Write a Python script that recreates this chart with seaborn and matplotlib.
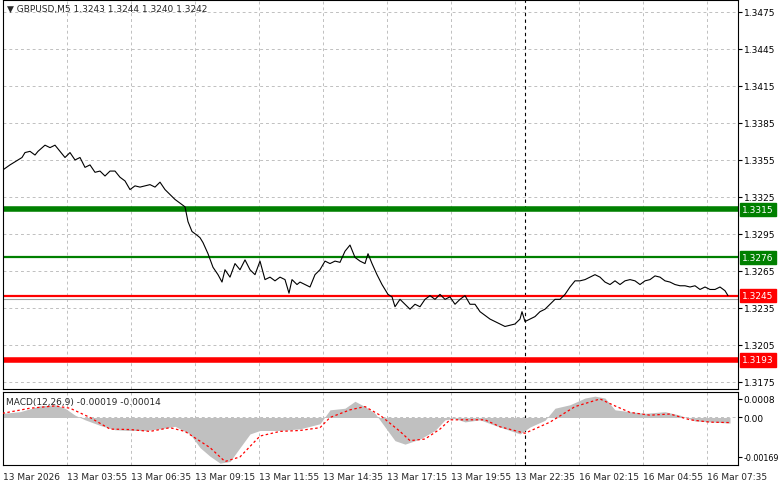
import matplotlib
matplotlib.use("Agg")
import matplotlib.pyplot as plt
import seaborn as sns
import numpy as np

sns.set_style("white")
plt.rcParams['font.family'] = ['DejaVu Sans']

symbol_title = "GBPUSD,M5 1.3243 1.3244 1.3240 1.3242"
px_x = [3,10,18,22,25,30,35,38,45,50,55,60,65,70,75,80,85,90,95,100,105,110,115,120,125,130,135,140,145,150,155,160,165,170,175,180,185,188,192,197,200,203,208,213,218,222,225,230,235,240,245,250,255,260,265,270,275,280,285,289,292,297,300,305,310,315,320,325,330,335,340,345,350,355,360,365,368,372,377,382,388,392,395,400,405,410,415,420,425,430,435,440,445,450,455,460,465,470,475,480,485,490,495,500,505,510,515,520,522,525,530,535,540,545,550,555,560,565,570,575,580,585,590,595,600,605,610,615,620,625,630,635,640,645,650,655,660,665,670,675,680,685,690,695,700,705,710,715,720,725,728]
bar_idx = [(x - 3) / 2 for x in px_x]
close = [1.3347,1.3351,1.3355,1.3357,1.3361,1.3362,1.3359,1.3362,1.3367,1.3365,1.3367,1.3362,1.3357,1.3361,1.3355,1.3357,1.3349,1.3351,1.3345,1.3346,1.3342,1.3346,1.3346,1.3341,1.3338,1.3331,1.3334,1.3333,1.3334,1.3335,1.3333,1.3337,1.3331,1.3327,1.3323,1.3320,1.3317,1.3305,1.3297,1.3294,1.3292,1.3288,1.3279,1.3268,1.3262,1.3256,1.3266,1.3260,1.3271,1.3266,1.3274,1.3266,1.3262,1.3273,1.3258,1.3260,1.3257,1.3260,1.3258,1.3247,1.3258,1.3254,1.3256,1.3254,1.3252,1.3262,1.3266,1.3273,1.3271,1.3273,1.3272,1.3281,1.3286,1.3276,1.3273,1.3271,1.3279,1.3271,1.3262,1.3254,1.3246,1.3244,1.3236,1.3242,1.3238,1.3234,1.3238,1.3236,1.3242,1.3245,1.3242,1.3246,1.3242,1.3244,1.3238,1.3242,1.3245,1.3238,1.3238,1.3232,1.3229,1.3226,1.3224,1.3222,1.3220,1.3221,1.3222,1.3226,1.3232,1.3224,1.3226,1.3228,1.3232,1.3234,1.3238,1.3242,1.3242,1.3246,1.3252,1.3257,1.3257,1.3258,1.3260,1.3262,1.3260,1.3256,1.3254,1.3257,1.3254,1.3257,1.3258,1.3257,1.3254,1.3257,1.3258,1.3261,1.3260,1.3257,1.3256,1.3254,1.3253,1.3253,1.3252,1.3253,1.3250,1.3252,1.3250,1.3250,1.3252,1.3249,1.3245]

macd_zx = [5,40,80,110,130,150,170,200,230,260,290,320,350,380,400,420,440,460,480,500,520,560,600,640,660,690,710,730,750,770,790,810,840,870,890,910,930,960,990,1020,1040,1060,1090,1110,1140,1170,1190,1210,1230,1260,1290,1330,1360,1390,1420,1460]
macd_hist = [0.00018,0.00025,0.0005,0.00055,0.0004,0.0001,-0.0001,-0.00034,-0.00053,-0.00056,-0.00056,-0.00049,-0.00038,-0.00071,-0.0013,-0.00167,-0.00197,-0.0019,-0.0013,-0.00071,-0.00056,-0.00056,-0.00049,-0.00027,0.00033,0.0004,0.0007,0.00047,0.00018,-0.00041,-0.001,-0.00115,-0.00093,-0.00056,-0.0001,-0.00004,-0.00019,-0.0001,-0.00034,-0.00056,-0.00071,-0.00041,-0.00012,0.0004,0.00055,0.00084,0.00092,0.00084,0.00033,0.00025,0.00018,0.00025,0.0001,-0.00015,-0.00019,-0.00024]
sig_zx = [5,60,110,140,180,220,260,300,340,370,420,450,480,520,560,600,640,660,700,730,760,800,820,850,880,900,940,970,1000,1050,1100,1150,1200,1230,1260,1300,1340,1380,1420,1460]
sig_val = [0.00018,0.0004,0.0005,0.0004,0.0,-0.0005,-0.00052,-0.0006,-0.00044,-0.0006,-0.0013,-0.0019,-0.0017,-0.0008,-0.0006,-0.00056,-0.00044,0.0,0.00033,0.00047,0.0001,-0.0006,-0.001,-0.00093,-0.0005,-0.0001,-0.0001,-0.0001,-0.0004,-0.00068,-0.0002,0.00047,0.0008,0.0005,0.00022,0.0001,0.00015,-0.0001,-0.0002,-0.00022]
macd_bar = [(z / 2 - 3) / 2 for z in macd_zx]
sig_bar = [(z / 2 - 3) / 2 for z in sig_zx]

levels = [1.3315, 1.3276, 1.3245, 1.3193]
level_colors = ["#008000", "#008000", "#ff0000", "#ff0000"]
level_widths = [4, 1.6, 1.6, 4]
last_price = 1.3242
price_ticks = [1.3175, 1.3205, 1.3235, 1.3265, 1.3295, 1.3325, 1.3355, 1.3385, 1.3415, 1.3445, 1.3475]
time_labels = ["13 Mar 2026", "13 Mar 03:55", "13 Mar 06:35", "13 Mar 09:15", "13 Mar 11:55", "13 Mar 14:35",
               "13 Mar 17:15", "13 Mar 19:55", "13 Mar 22:35", "16 Mar 02:15", "16 Mar 04:55", "16 Mar 07:35"]
time_bars = [0, 32, 64, 96, 128, 160, 192, 224, 256, 288, 320, 352]
cursor_bar = 261

W, H = 781, 489
fig = plt.figure(figsize=(W / 100, H / 100), dpi=100)
ax = fig.add_axes([3 / W, 1 - 390 / H, 735 / W, 389 / H])
ax2 = fig.add_axes([3 / W, 1 - 466 / H, 735 / W, 73 / H])
xmax = 367.5
for a in (ax, ax2):
    a.set_xlim(0, xmax)
    for s in a.spines.values():
        s.set_color("black"); s.set_linewidth(0.8)
    for b in time_bars:
        a.axvline(b, color="#c0c0c0", ls=(0, (3, 3)), lw=0.7, zorder=0)
    a.axvline(cursor_bar, color="black", ls=(0, (3, 3)), lw=0.8, zorder=1)
    a.yaxis.tick_right()
    a.tick_params(axis='y', labelsize=6.5, length=3, pad=1.5, colors="black")

ax.set_ylim(1.31693, 1.34847)
for t in price_ticks:
    ax.axhline(t, color="#c0c0c0", ls=(0, (3, 3)), lw=0.7, zorder=0)
ax.set_yticks(price_ticks)
ax.set_yticklabels([f"{t:.4f}" for t in price_ticks])
ax.set_xticks([])
ax.axhline(last_price, color="#a0a0a0", lw=0.8, zorder=1)
sns.lineplot(x=bar_idx, y=close, ax=ax, color="black", lw=0.8, zorder=3)
for lv, c, w in zip(levels, level_colors, level_widths):
    ax.axhline(lv, color=c, lw=w, zorder=2)
    ax.annotate(f"{lv:.4f}", xy=(1.0, lv), xycoords=("axes fraction", "data"), xytext=(3, 0),
                textcoords="offset points", va="center", ha="left", fontsize=6.5, color="white",
                bbox=dict(boxstyle="square,pad=0.25", fc=c, ec=c), annotation_clip=False)
ax.text(0.005, 0.99, "▼ " + symbol_title, transform=ax.transAxes, fontsize=6.5, va="top", ha="left")

ax2.set_ylim(-0.00205, 0.0011)
ax2.axhline(0, color="#c0c0c0", ls=(0, (3, 3)), lw=0.7, zorder=0)
ax2.fill_between(macd_bar, 0, macd_hist, color="#c0c0c0", lw=0, zorder=2)
sns.lineplot(x=sig_bar, y=sig_val, ax=ax2, color="red", lw=0.9, ls=(0, (2, 2)), zorder=3)
ax2.set_yticks([0.0008, 0.0, -0.00169])
ax2.set_yticklabels(["0.0008", "0.00", "-0.00169"])
ax2.get_yticklabels()[2].set_fontsize(5.8)
ax2.tick_params(axis='y', pad=1)
ax2.set_xticks(time_bars)
ax2.set_xticklabels(time_labels, fontsize=6.5, ha="left")
ax2.tick_params(axis='x', length=3, pad=2)
ax2.text(0.004, 0.93, "MACD(12,26,9) -0.00019 -0.00014", transform=ax2.transAxes, fontsize=6.5, va="top", ha="left")

fig.savefig("out.png", dpi=100, facecolor="white")
